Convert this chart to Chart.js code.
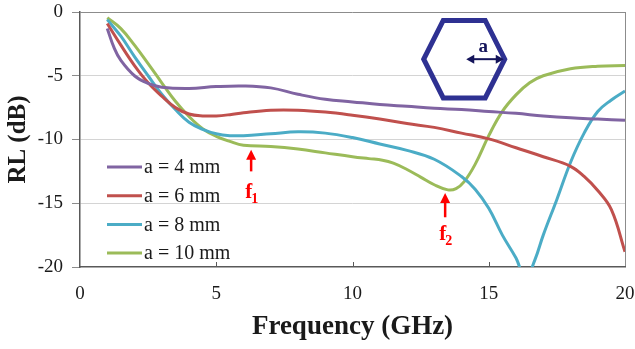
<!DOCTYPE html>
<html>
<head>
<meta charset="utf-8">
<script src="https://cdn.jsdelivr.net/npm/chart.js@4.4.1/dist/chart.umd.min.js"></script>
<style>
  html, body { margin: 0; padding: 0; background: #fff; }
  #wrap { width: 635px; height: 349px; }
</style>
</head>
<body>
<div id="wrap"><canvas id="rlChart" width="635" height="349"></canvas></div>
<script>
// data
const freq4 = [1, 1.25, 1.5, 2, 2.5, 3, 4, 5, 6, 7, 8, 9, 10, 11, 12, 13, 14, 15, 16, 17, 18, 19, 20];
const rl4 = [-1.3, -2.8, -3.8, -5.0, -5.6, -5.9, -6.0, -5.85, -5.8, -5.95, -6.45, -6.85, -7.05, -7.25, -7.4, -7.55, -7.65, -7.8, -7.95, -8.15, -8.3, -8.4, -8.5];

const freq6 = [1, 1.5, 2, 2.5, 3, 3.5, 4, 4.5, 5, 5.5, 6, 7, 8, 9, 10, 11, 12, 13, 14, 15, 16, 17, 18, 18.5, 19, 19.5, 20];
const rl6 = [-0.9, -2.6, -4.2, -5.55, -6.6, -7.5, -8.0, -8.15, -8.15, -8.05, -7.9, -7.7, -7.7, -7.85, -8.1, -8.4, -8.75, -9.05, -9.5, -9.95, -10.65, -11.35, -12.1, -12.9, -14.0, -15.5, -18.8];

const freq8 = [1, 1.5, 2, 2.5, 3, 3.5, 4, 4.5, 5, 5.5, 6, 7, 8, 9, 10, 11, 12, 13, 14, 14.5, 15, 15.5, 16, 16.35, 16.7, 17, 17.5, 18, 18.5, 19, 19.5, 20];
const rl8 = [-0.6, -1.9, -3.5, -5.0, -6.45, -7.65, -8.65, -9.2, -9.55, -9.7, -9.7, -9.55, -9.4, -9.5, -9.85, -10.35, -10.85, -11.55, -12.9, -13.9, -15.4, -17.5, -19.3, -20.9, -19.4, -17.5, -14.7, -11.8, -9.5, -7.8, -6.9, -6.2];

const freq10 = [1, 1.5, 2, 2.5, 3, 3.5, 4, 4.5, 5, 5.5, 6, 7, 8, 9, 10, 10.6, 11.1, 11.5, 12, 12.5, 13, 13.5, 13.8, 14.1, 14.5, 15, 15.5, 16, 16.5, 17, 18, 19, 20];
const rl10 = [-0.45, -1.3, -2.6, -4.05, -5.55, -7.0, -8.2, -9.15, -9.75, -10.15, -10.45, -10.55, -10.75, -11.05, -11.35, -11.5, -11.62, -11.85, -12.35, -12.95, -13.55, -13.95, -13.85, -13.3, -11.95, -9.7, -7.8, -6.5, -5.55, -5.0, -4.45, -4.25, -4.2];

const seriesLabels = ['a = 4 mm', 'a = 6 mm', 'a = 8 mm', 'a = 10 mm'];
const seriesColors = ['#8064a2', '#c0504d', '#4bacc6', '#9bbb59'];
const xTicks = [0, 5, 10, 15, 20];
const yTicks = [0, -5, -10, -15, -20];

// arrow markers: x, arrow tip, arrow tail, label y (data units)
const markers = [
  { name: 'f', sub: '1', x: 6.28, tip: -10.8, tail: -12.5, label: -14.6 },
  { name: 'f', sub: '2', x: 13.4, tip: -14.2, tail: -16.1, label: -17.9 }
];

const serif = "'Liberation Serif', 'Times New Roman', serif";

function toPoints(xs, ys) {
  return xs.map((x, i) => ({ x: x, y: ys[i] }));
}

const allX = [freq4, freq6, freq8, freq10];
const allY = [rl4, rl6, rl8, rl10];

// no extra room for overflowing edge labels
function trimPadding(s) {
  s.paddingLeft = 0;
  s.paddingRight = 0;
  s.paddingTop = 0;
  s.paddingBottom = 0;
}

const decorPlugin = {
  id: 'decor',
  afterDatasetsDraw(chart) {
    const ctx = chart.ctx;
    const xs = chart.scales.x, ys = chart.scales.y;
    const area = chart.chartArea;
    ctx.save();

    // inward ticks on the frequency axis
    ctx.strokeStyle = '#595959';
    ctx.lineWidth = 1;
    xTicks.slice(1, -1).forEach(v => {
      const px = Math.round(xs.getPixelForValue(v)) + 0.5;
      ctx.beginPath();
      ctx.moveTo(px, area.bottom);
      ctx.lineTo(px, area.bottom - 5);
      ctx.stroke();
    });

    // legend inside plot
    ctx.font = '20px ' + serif;
    ctx.textBaseline = 'middle';
    ctx.textAlign = 'left';
    chart.data.datasets.forEach((ds, i) => {
      const y = area.top + 155 + i * 28.7;
      ctx.strokeStyle = ds.borderColor;
      ctx.lineWidth = 3;
      ctx.beginPath();
      ctx.moveTo(area.left + 27, y);
      ctx.lineTo(area.left + 62, y);
      ctx.stroke();
      ctx.fillStyle = '#1a1a1a';
      ctx.fillText(ds.label, area.left + 64, y + 1);
    });

    // red arrows with f1 / f2
    markers.forEach(m => {
      const px = xs.getPixelForValue(m.x);
      const tip = ys.getPixelForValue(m.tip);
      const tail = ys.getPixelForValue(m.tail);
      ctx.strokeStyle = '#ff0000';
      ctx.fillStyle = '#ff0000';
      ctx.lineWidth = 2.5;
      ctx.beginPath();
      ctx.moveTo(px, tail);
      ctx.lineTo(px, tip + 8);
      ctx.stroke();
      ctx.beginPath();
      ctx.moveTo(px, tip);
      ctx.lineTo(px - 5, tip + 10);
      ctx.lineTo(px + 5, tip + 10);
      ctx.closePath();
      ctx.fill();
      const ly = ys.getPixelForValue(m.label);
      ctx.textBaseline = 'alphabetic';
      ctx.font = 'bold 21px ' + serif;
      ctx.textAlign = 'right';
      ctx.fillText(m.name, px + 1, ly);
      ctx.font = 'bold 14px ' + serif;
      ctx.textAlign = 'left';
      ctx.fillText(m.sub, px, ly + 5);
    });

    // hexagon inset
    const cx = xs.getPixelForValue(14.1);
    const cy = ys.getPixelForValue(-3.7);
    const rx = 40.5, hx = 21, ry = 38.8;
    ctx.strokeStyle = '#2e3192';
    ctx.lineWidth = 5;
    ctx.lineJoin = 'miter';
    ctx.beginPath();
    ctx.moveTo(cx - rx, cy);
    ctx.lineTo(cx - hx, cy - ry);
    ctx.lineTo(cx + hx, cy - ry);
    ctx.lineTo(cx + rx, cy);
    ctx.lineTo(cx + hx, cy + ry);
    ctx.lineTo(cx - hx, cy + ry);
    ctx.closePath();
    ctx.stroke();

    // double-headed arrow for a
    ctx.strokeStyle = '#14145a';
    ctx.fillStyle = '#14145a';
    ctx.lineWidth = 2;
    ctx.beginPath();
    ctx.moveTo(cx + 6, cy);
    ctx.lineTo(cx + rx - 6, cy);
    ctx.stroke();
    ctx.beginPath();
    ctx.moveTo(cx + 2, cy);
    ctx.lineTo(cx + 10, cy - 4.5);
    ctx.lineTo(cx + 10, cy + 4.5);
    ctx.closePath();
    ctx.fill();
    ctx.beginPath();
    ctx.moveTo(cx + rx - 1, cy);
    ctx.lineTo(cx + rx - 9, cy - 4.5);
    ctx.lineTo(cx + rx - 9, cy + 4.5);
    ctx.closePath();
    ctx.fill();
    ctx.font = 'bold 19px ' + serif;
    ctx.textAlign = 'center';
    ctx.textBaseline = 'alphabetic';
    ctx.fillText('a', cx + 19, cy - 7);

    ctx.restore();
  }
};

const chart = new Chart(document.getElementById('rlChart'), {
  type: 'line',
  data: {
    datasets: seriesLabels.map((label, i) => ({
      label: label,
      data: toPoints(allX[i], allY[i]),
      borderColor: seriesColors[i],
      backgroundColor: seriesColors[i],
      borderWidth: 3,
      pointRadius: 0,
      fill: false,
      tension: 0.4
    }))
  },
  options: {
    responsive: false,
    devicePixelRatio: 1,
    animation: false,
    layout: { padding: { top: 12, right: 10, left: 0, bottom: 0 } },
    plugins: {
      legend: { display: false },
      tooltip: { enabled: false }
    },
    scales: {
      x: {
        type: 'linear',
        min: 0,
        max: 20,
        afterFit: s => { s.height = 82; trimPadding(s); },
        afterBuildTicks: s => { s.ticks = xTicks.map(v => ({ value: v })); },
        grid: {
          drawTicks: false,
          color: c => (c.tick && c.tick.value === 20 ? '#8c8c8c' : 'rgba(0,0,0,0)')
        },
        border: { color: '#595959', width: 1.5 },
        ticks: {
          padding: 16,
          color: '#1a1a1a',
          font: { family: serif, size: 19 }
        },
        title: {
          display: true,
          text: 'Frequency (GHz)',
          color: '#1a1a1a',
          font: { family: serif, size: 27, weight: 'bold' },
          padding: { top: 0, bottom: 6 }
        }
      },
      y: {
        min: -20,
        max: 0,
        afterFit: s => { s.width = 80; trimPadding(s); },
        afterBuildTicks: s => { s.ticks = yTicks.map(v => ({ value: v })); },
        grid: {
          tickLength: 8,
          tickColor: '#8c8c8c',
          color: c => {
            if (!c.tick) return 'rgba(0,0,0,0)';
            if (c.tick.value === 0) return '#8c8c8c';
            if (c.tick.value === -20) return 'rgba(0,0,0,0)';
            return '#d4d4d4';
          }
        },
        border: { color: '#595959', width: 1.5 },
        ticks: {
          padding: 9,
          color: '#1a1a1a',
          font: { family: serif, size: 19 }
        },
        title: {
          display: true,
          text: 'RL (dB)',
          color: '#1a1a1a',
          font: { family: serif, size: 25, weight: 'bold' },
          padding: { top: 4, bottom: 0 }
        }
      }
    }
  },
  plugins: [decorPlugin]
});
</script>
</body>
</html>
